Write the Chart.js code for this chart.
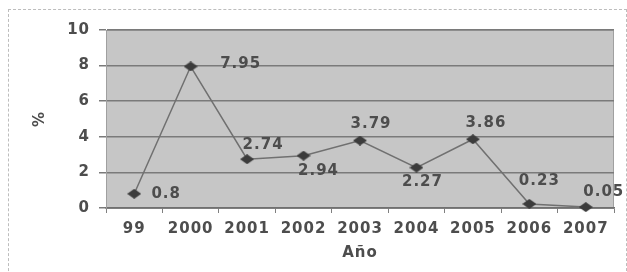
<!DOCTYPE html>
<html>
<head>
<meta charset="utf-8">
<script src="https://cdn.jsdelivr.net/npm/chart.js@4"></script>
<style>
  html, body { margin: 0; padding: 0; background: #fff; }
  #wrap { position: relative; width: 627px; height: 272px; overflow: hidden; }
  #frame { position: absolute; left: 8px; top: 9px; width: 617px; height: 275px; border: 1px dashed #bdbdbd; }
  canvas { position: absolute; left: 0; top: 0; }
</style>
</head>
<body>
<div id="wrap">
  <div id="frame"></div>
  <canvas id="chart" width="627" height="272"></canvas>
</div>
<script>
const years = ["99", "2000", "2001", "2002", "2003", "2004", "2005", "2006", "2007"];
const values = [0.8, 7.95, 2.74, 2.94, 3.79, 2.27, 3.86, 0.23, 0.05];
const yMin = 0;
const yMax = 10;
const yStep = 2;
const yTitle = "%";
const xTitle = "Año";

// where each value label sits relative to its point
const labelDx = [32, 50, 16, 15, 11, 6, 13, 10, 18];
const labelDy = [0, -2, -14, 15, -16, 15, -16, -23, -15];

const textColor = "#4d4d4d";
const tickFont = { family: "DejaVu Sans", size: 15, weight: "bold" };

function diamond(w, h, color) {
  const c = document.createElement("canvas");
  c.width = w;
  c.height = h;
  const g = c.getContext("2d");
  g.fillStyle = color;
  g.beginPath();
  g.moveTo(w / 2, 0);
  g.lineTo(w, h / 2);
  g.lineTo(w / 2, h);
  g.lineTo(0, h / 2);
  g.closePath();
  g.fill();
  return c;
}

const plotBackground = {
  id: "plotBackground",
  beforeDraw(chart) {
    const { ctx, chartArea: a } = chart;
    ctx.letterSpacing = "1px";
    ctx.save();
    ctx.fillStyle = "#c6c6c6";
    ctx.fillRect(a.left, a.top, a.right - a.left, a.bottom - a.top);
    ctx.strokeStyle = "#a0a0a0";
    ctx.lineWidth = 1;
    ctx.strokeRect(a.left + 0.5, a.top + 0.5, a.right - a.left - 1, a.bottom - a.top);
    ctx.restore();
  }
};

const valueLabels = {
  id: "valueLabels",
  afterDatasetsDraw(chart) {
    const { ctx } = chart;
    const meta = chart.getDatasetMeta(0);
    ctx.save();
    ctx.font = "bold 15px 'DejaVu Sans'";
    ctx.fillStyle = textColor;
    ctx.textAlign = "center";
    ctx.textBaseline = "middle";
    meta.data.forEach(function(pt, i) {
      ctx.fillText(String(values[i]), pt.x + labelDx[i], pt.y + labelDy[i]);
    });
    ctx.restore();
  }
};

const config = {
  type: "line",
  data: {
    labels: years,
    datasets: [
      {
        data: values,
        borderColor: "#707070",
        borderWidth: 1.5,
        pointStyle: diamond(14, 10, "#3c3c3c"),
        pointRadius: 6,
        tension: 0,
        clip: false
      }
    ]
  },
  options: {
    responsive: false,
    animation: false,
    layout: { padding: { top: 30, right: 13, bottom: 0, left: 0 } },
    plugins: {
      legend: { display: false },
      tooltip: { enabled: false }
    },
    scales: {
      x: {
        offset: true,
        grid: {
          offset: true,
          drawOnChartArea: false,
          drawTicks: true,
          tickLength: 5,
          color: "#808080",
          lineWidth: 1
        },
        border: { display: true, color: "#707070", width: 1.5 },
        ticks: { color: textColor, font: tickFont, padding: 7, maxRotation: 0, autoSkip: false },
        title: {
          display: true,
          text: xTitle,
          color: textColor,
          font: { family: "DejaVu Sans", size: 15, weight: "bold" },
          padding: { top: 0, bottom: 10 }
        },
        afterFit(scale) { scale.height = 64; }
      },
      y: {
        min: yMin,
        max: yMax,
        grid: {
          color: "#7a7a7a",
          lineWidth: 1.5,
          tickLength: 7
        },
        border: { display: true, color: "#a0a0a0", width: 1 },
        ticks: { stepSize: yStep, color: textColor, font: tickFont, padding: 9 },
        title: {
          display: true,
          text: yTitle,
          color: textColor,
          font: { family: "DejaVu Sans", size: 15, weight: "bold" },
          padding: { top: 31, bottom: 0 }
        },
        afterFit(scale) { scale.width = 106; }
      }
    }
  },
  plugins: [plotBackground, valueLabels]
};

window.onload = function() {
  const ctx = document.getElementById("chart").getContext("2d");
  new Chart(ctx, config);
};
</script>
</body>
</html>
